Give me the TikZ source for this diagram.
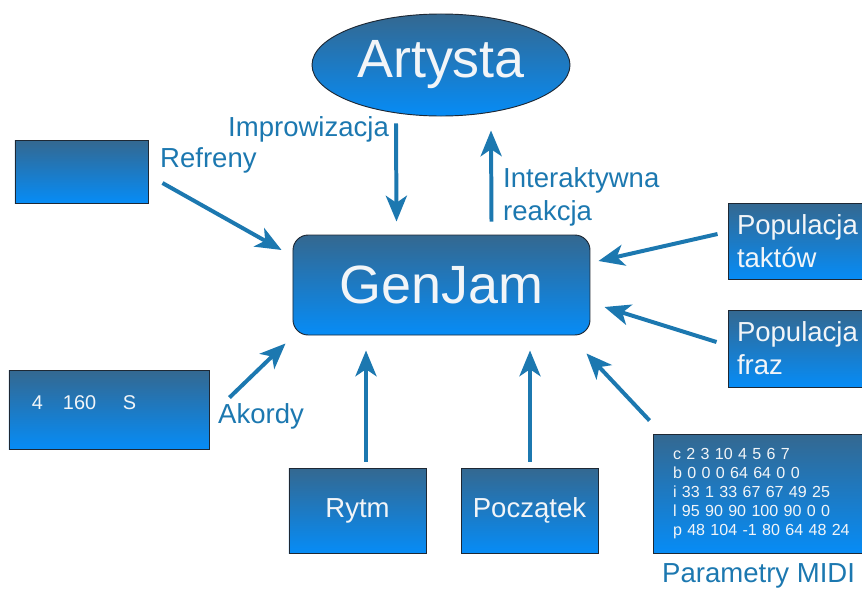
\documentclass[tikz,border=0pt]{standalone}
\usepackage{fontspec}
\setmainfont{Liberation Sans}
\usetikzlibrary{arrows.meta, calc, shapes.geometric}
\definecolor{boxtop}{RGB}{52,104,144}
\definecolor{boxbottom}{RGB}{6,140,246}
\definecolor{boxline}{RGB}{30,40,52}
\definecolor{flowblue}{RGB}{28,120,176}
\definecolor{boxtext}{RGB}{242,245,248}
\begin{document}
\begin{tikzpicture}[x=0.03cm, y=-0.03cm,
  bluebox/.style={draw=boxline, line width=0.8pt, top color=boxtop, bottom color=boxbottom, text=boxtext, inner sep=0pt},
  lbl/.style={text=flowblue, font=\fontsize{23.5}{28}\selectfont, inner sep=0pt},
  flow/.style={draw=flowblue, line width=3.4pt, -{Stealth[length=22pt, width=18pt, inset=6pt]}}]
\useasboundingbox (0,0) rectangle (862,589);
\clip (0,0) rectangle (862,589);
\node[bluebox, ellipse, minimum width=7.74cm, minimum height=3.06cm, font=\fontsize{46}{50}\selectfont] (artist) at (441,65) {Artysta};
\node[bluebox, rounded corners=13pt, minimum width=8.91cm, minimum height=3cm, font=\fontsize{46}{50}\selectfont] (genjam) at (441.5,285) {GenJam};
\node[bluebox, minimum width=3.99cm, minimum height=1.89cm] (refr) at (81.5,171.5) {};
\node[bluebox, minimum height=2.37cm, text width=4.62cm, inner xsep=0.69cm, text depth=0.42cm, align=left, font=\fontsize{17}{20}\selectfont] (chords) at (109,409.5) {4\quad 160\quad\ S};
\node[bluebox, minimum height=2.28cm, text width=3.78cm, inner xsep=0.27cm, align=left, font=\fontsize{23.5}{28}\selectfont] (takt) at (800,241) {Populacja\\taktów};
\node[bluebox, minimum height=2.31cm, text width=3.78cm, inner xsep=0.27cm, align=left, font=\fontsize{23.5}{28}\selectfont] (fraz) at (800,348.5) {Populacja\\fraz};
\node[bluebox, minimum height=3.57cm, text width=5.37cm, inner xsep=0.6cm, align=left, font=\fontsize{13.7}{16.2}\selectfont] (midi) at (762.5,493.5) {c 2 3 10 4 5 6 7\\b 0 0 0 64 64 0 0\\i 33 1 33 67 67 49 25\\l 95 90 90 100 90 0 0\\p 48 104 -1 80 64 48 24};
\node[bluebox, minimum width=4.11cm, minimum height=2.55cm, font=\fontsize{23.5}{28}\selectfont] (rhythm) at (357.5,510.5) {Rytm};
\node[bluebox, minimum width=4.11cm, minimum height=2.55cm, font=\fontsize{23.5}{28}\selectfont] (opening) at (529.5,510.5) {Początek};
% labels
\node[lbl, anchor=base west] (improv) at (228,136) {Improwizacja};
\node[lbl, anchor=base west] (refrains) at (160,167) {Refreny};
\node[lbl, anchor=west, align=left] (react) at (503,197) {Interaktywna\\reakcja};
\node[lbl, anchor=base west] (chordlbl) at (218,423) {Akordy};
\node[lbl, anchor=base west] (midilbl) at (662,582) {Parametry MIDI};
% arrows
\draw[flow] ($(artist.south)+(-45,7)$) -- ($(genjam.north)+(-45,-13)$);
\draw[flow] ($(genjam.north)+(50,-13)$) -- ($(artist.south)+(50,14)$);
\draw[flow] ($(refr.east)+(14,11.5)$) -- ($(genjam.west)+(-11,-35)$);
\draw[flow] ($(takt.west)+(-10,-7)$) -- ($(genjam.east)+(8,-24)$);
\draw[flow] ($(fraz.west)+(-11,-6.5)$) -- ($(genjam.east)+(14,22)$);
\draw[flow] ($(midi.north west)+(-3,-13)$) -- ($(genjam.south east)+(-4,18)$);
\draw[flow] ($(rhythm.north)+(8.5,-6)$) -- ($(genjam.south)+(-75.5,15)$);
\draw[flow] ($(opening.north)+(0.5,-6)$) -- ($(genjam.south)+(88.5,15)$);
\draw[flow] ($(chords.north east)+(20,28)$) -- ($(genjam.south west)+(-7,8)$);
\end{tikzpicture}
\end{document}
